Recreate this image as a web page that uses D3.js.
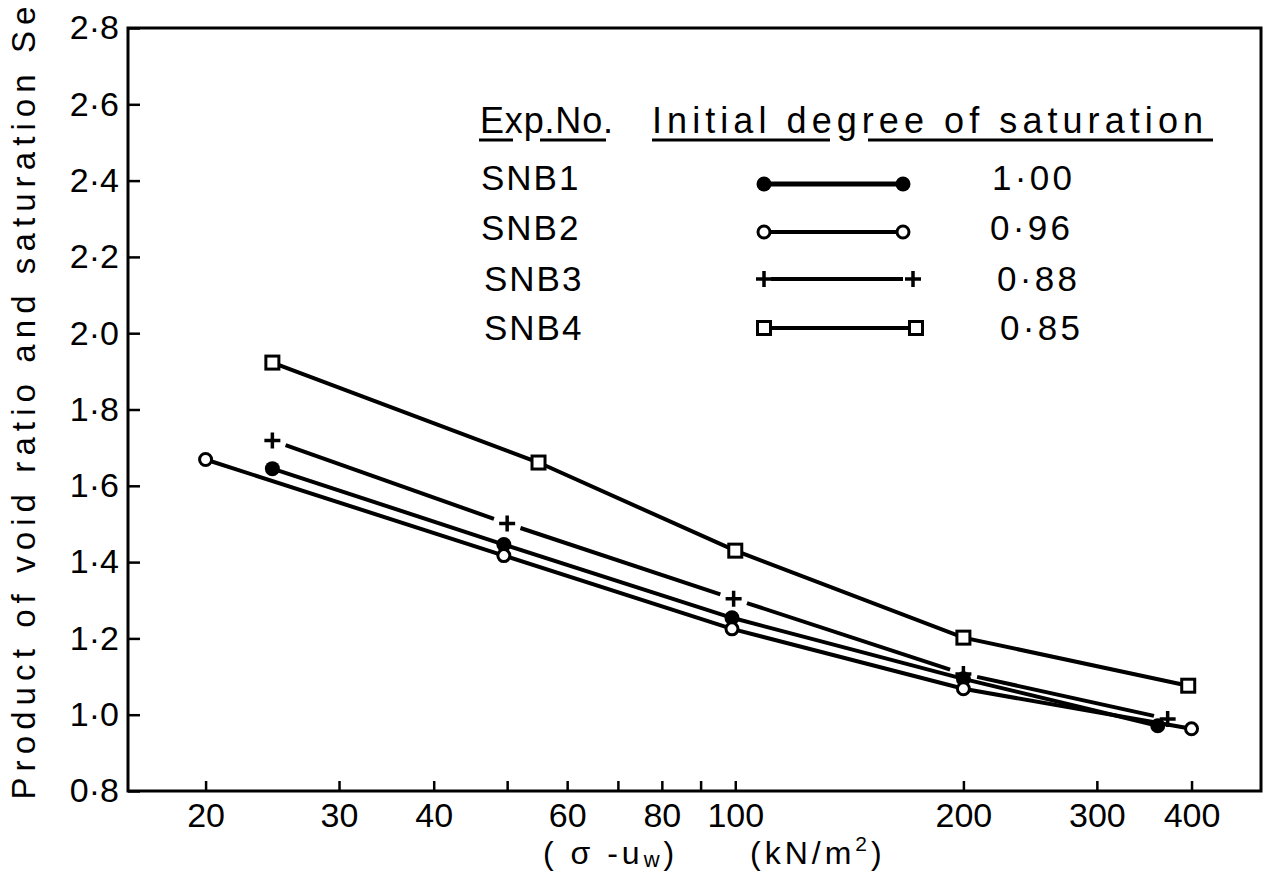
<!DOCTYPE html>
<meta charset="utf-8">
<script src="https://d3js.org/d3.v7.min.js"></script>
<style>
  body { margin: 0; background: #fff; }
  text { font-family: "Liberation Sans", Arial, sans-serif; fill: #000; }
</style>
<div id="my_dataviz"></div>
<script>

// effective stress (sigma - uw), kN/m2, and product of void ratio and saturation
var snb1Stress = [24.5, 49.5, 99, 200, 361];
var snb1Se     = [1.645, 1.446, 1.254, 1.094, 0.971];
var snb2Stress = [20, 49.5, 99, 200, 400];
var snb2Se     = [1.669, 1.417, 1.225, 1.068, 0.963];
var snb3Stress = [24.5, 50, 99.5, 200, 372];
var snb3Se     = [1.719, 1.501, 1.304, 1.107, 0.989];
var snb4Stress = [24.5, 55, 100, 200, 396];
var snb4Se     = [1.923, 1.661, 1.430, 1.202, 1.076];

var expNames   = ["SNB1", "SNB2", "SNB3", "SNB4"];
var initialSat = ["1·00", "0·96", "0·88", "0·85"];
var markerKind = ["filled", "open", "plus", "square"];

var xTicks  = [20, 30, 40, 50, 60, 70, 80, 90, 100, 200, 300, 400];
var xLabels = [20, 30, 40, 60, 80, 100, 200, 300, 400];
var yTicks  = [0.8, 1.0, 1.2, 1.4, 1.6, 1.8, 2.0, 2.2, 2.4, 2.6, 2.8];

// set the dimensions and margins of the graph
var W = 1269, H = 872;
var margin = {top: 28, right: 8, bottom: 81, left: 128};

var svg = d3.select("#my_dataviz")
  .append("svg")
    .attr("width", W)
    .attr("height", H);

var x = d3.scaleLog()
  .domain([15.8, 494])
  .range([margin.left, W - margin.right]);

var y = d3.scaleLinear()
  .domain([0.8, 2.8])
  .range([H - margin.bottom, margin.top]);

// frame
svg.append("rect")
  .attr("x", margin.left)
  .attr("y", margin.top)
  .attr("width", W - margin.right - margin.left)
  .attr("height", H - margin.bottom - margin.top)
  .attr("fill", "none")
  .attr("stroke", "#000")
  .attr("stroke-width", 3);

// Y axis
var yAxis = svg.append("g")
  .attr("transform", "translate(" + margin.left + ",0)")
  .call(d3.axisLeft(y)
    .tickValues(yTicks)
    .tickSizeInner(-12)
    .tickSizeOuter(0)
    .tickPadding(9)
    .tickFormat(function(d) { return d.toFixed(1).replace(".", "·"); }));
yAxis.select(".domain").remove();
yAxis.selectAll("line").attr("stroke-width", 2.5);
yAxis.selectAll("text").style("font-size", "34px").attr("fill", "#000");

// X axis
var xAxis = svg.append("g")
  .attr("transform", "translate(0," + (H - margin.bottom) + ")")
  .call(d3.axisBottom(x)
    .tickValues(xTicks)
    .tickSizeInner(-10)
    .tickSizeOuter(0)
    .tickPadding(12)
    .tickFormat(function(d) { return xLabels.indexOf(d) >= 0 ? d : ""; }));
xAxis.select(".domain").remove();
xAxis.selectAll("line").attr("stroke-width", 2.5);
xAxis.selectAll("text").style("font-size", "34px").attr("fill", "#000");

// axis titles
svg.append("text")
  .attr("transform", "translate(35,403) rotate(-90)")
  .attr("text-anchor", "middle")
  .attr("textLength", 793)
  .attr("lengthAdjust", "spacing")
  .style("font-size", "33px")
  .text("Product of void ratio and saturation Se");

var t1 = svg.append("text")
  .attr("x", 543).attr("y", 864)
  .style("font-size", "32px")
  .style("letter-spacing", "4px");
t1.append("tspan").text("( σ -u");
t1.append("tspan").attr("dy", 3).style("font-size", "22px").text("w");
t1.append("tspan").attr("dy", -3).text(")");

var t2 = svg.append("text")
  .attr("x", 750).attr("y", 864)
  .style("font-size", "32px")
  .style("letter-spacing", "4px");
t2.append("tspan").text("(kN/m");
t2.append("tspan").attr("dy", -13).style("font-size", "21px").text("2");
t2.append("tspan").attr("dy", 13).text(")");

// build series
var stresses = [snb1Stress, snb2Stress, snb3Stress, snb4Stress];
var values = [snb1Se, snb2Se, snb3Se, snb4Se];
var series = expNames.map(function(name, i) {
  return {
    name: name,
    kind: markerKind[i],
    points: stresses[i].map(function(s, j) { return {p: s, v: values[i][j]}; })
  };
});

var line = d3.line()
  .x(function(d) { return x(d.p); })
  .y(function(d) { return y(d.v); });

function drawMarker(g, kind, cx, cy) {
  if (kind === "filled") {
    g.append("circle").attr("cx", cx).attr("cy", cy).attr("r", 7.5).attr("fill", "#000");
  } else if (kind === "open") {
    g.append("circle").attr("cx", cx).attr("cy", cy).attr("r", 6)
      .attr("fill", "#fff").attr("stroke", "#000").attr("stroke-width", 3);
  } else if (kind === "square") {
    g.append("rect").attr("x", cx - 6.5).attr("y", cy - 6.5).attr("width", 13).attr("height", 13)
      .attr("fill", "#fff").attr("stroke", "#000").attr("stroke-width", 3);
  } else {
    g.append("path")
      .attr("d", "M" + (cx - 8) + "," + cy + "H" + (cx + 8) + "M" + cx + "," + (cy - 8) + "V" + (cy + 8))
      .attr("stroke", "#000").attr("stroke-width", 3.5).attr("fill", "none");
  }
}

// lines
series.forEach(function(s) {
  if (s.kind === "plus") {
    // this series is drawn with small gaps next to each mark
    var gap = 14;
    for (var j = 0; j < s.points.length - 1; j++) {
      var x0 = x(s.points[j].p), y0 = y(s.points[j].v);
      var x1 = x(s.points[j + 1].p), y1 = y(s.points[j + 1].v);
      var len = Math.hypot(x1 - x0, y1 - y0);
      var ux = (x1 - x0) / len, uy = (y1 - y0) / len;
      svg.append("line")
        .attr("x1", x0 + ux * gap).attr("y1", y0 + uy * gap)
        .attr("x2", x1 - ux * gap).attr("y2", y1 - uy * gap)
        .attr("stroke", "#000").attr("stroke-width", 4);
    }
  } else {
    svg.append("path")
      .datum(s.points)
      .attr("d", line)
      .attr("fill", "none")
      .attr("stroke", "#000")
      .attr("stroke-width", 4);
  }
});

// markers
series.forEach(function(s) {
  var g = svg.append("g");
  s.points.forEach(function(d) { drawMarker(g, s.kind, x(d.p), y(d.v)); });
});

// legend
var lg = svg.append("g");
lg.append("text").attr("x", 480).attr("y", 133)
  .attr("textLength", 133).attr("lengthAdjust", "spacing")
  .style("font-size", "36px").text("Exp.No.");
lg.append("text").attr("x", 652).attr("y", 133)
  .attr("textLength", 551).attr("lengthAdjust", "spacing")
  .style("font-size", "36px").text("Initial degree of saturation");
[[479, 513], [540, 606], [652, 830], [868, 1213]].forEach(function(u) {
  lg.append("line").attr("x1", u[0]).attr("x2", u[1]).attr("y1", 140).attr("y2", 140)
    .attr("stroke", "#000").attr("stroke-width", 3);
});

var rowY = [178, 228, 279, 328];
var valX = [992, 990, 997, 1000];
series.forEach(function(s, i) {
  var cy = rowY[i];
  lg.append("text").attr("x", 481 + (i >= 2 ? 3 : 0)).attr("y", cy + 12)
    .style("font-size", "35px").style("letter-spacing", "2px").text(s.name);
  var xa = 764, xb = s.kind === "plus" ? 913 : (s.kind === "square" ? 916 : 903);
  var ly = cy + (i === 0 ? 6 : (i === 1 ? 4 : 0));
  if (s.kind === "plus") {
    lg.append("line").attr("x1", xa + 7).attr("x2", xb - 10).attr("y1", ly).attr("y2", ly)
      .attr("stroke", "#000").attr("stroke-width", 4);
  } else {
    lg.append("line").attr("x1", xa).attr("x2", xb).attr("y1", ly).attr("y2", ly)
      .attr("stroke", "#000").attr("stroke-width", i === 0 ? 5 : 4);
  }
  drawMarker(lg, s.kind, xa, ly);
  drawMarker(lg, s.kind, xb, ly);
  lg.append("text").attr("x", valX[i]).attr("y", cy + 12)
    .attr("textLength", 80).attr("lengthAdjust", "spacing")
    .style("font-size", "35px").text(initialSat[i]);
});

</script>
